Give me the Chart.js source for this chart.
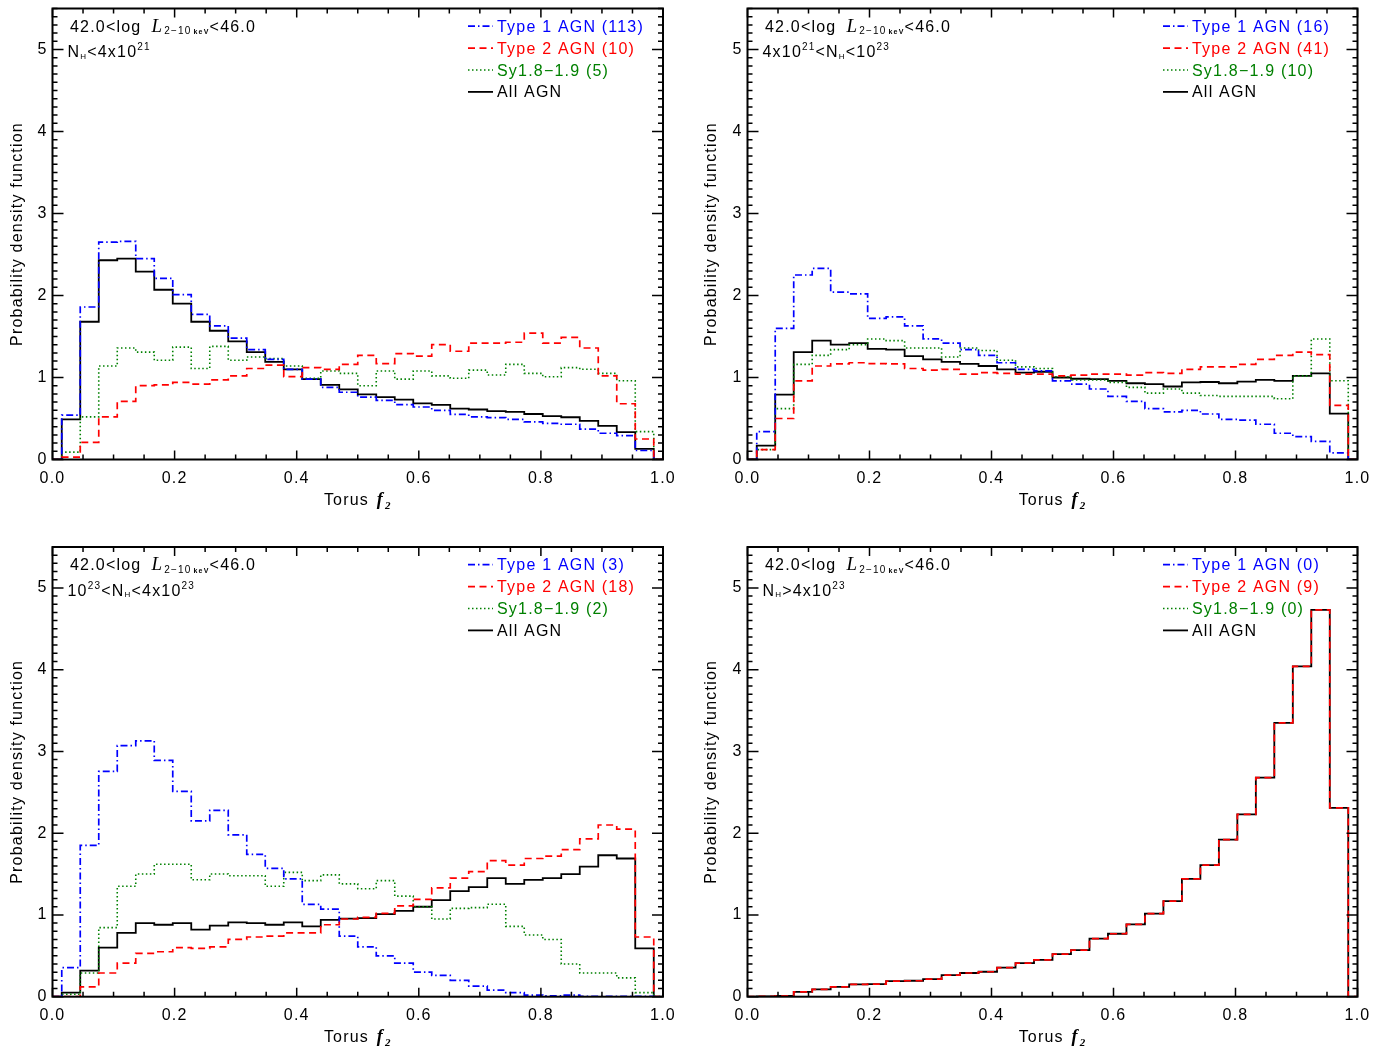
<!DOCTYPE html>
<html lang="en">
<head>
<meta charset="utf-8">
<title>Torus f2 probability density functions</title>
<script src="https://cdn.jsdelivr.net/npm/chart.js@4.4.1/dist/chart.umd.min.js"></script>
<style>
  html, body { margin: 0; padding: 0; background: #ffffff; }
  #page { position: relative; width: 1387px; height: 1051px; overflow: hidden; background: #ffffff; }
  #page canvas { position: absolute; }
</style>
</head>
<body>
<div id="page">
  <canvas id="panel1" width="694" height="525" style="left:0px;top:0px"></canvas>
  <canvas id="panel2" width="693" height="525" style="left:694px;top:0px"></canvas>
  <canvas id="panel3" width="694" height="526" style="left:0px;top:525px"></canvas>
  <canvas id="panel4" width="693" height="526" style="left:694px;top:525px"></canvas>
</div>
<script>
// histogram bins are 1/33 wide, centred on k/33 (k = 0..33)
const binCenters = Array.from({ length: 34 }, (_, k) => k / 33);
const xTickLabels = ['0.0', '0.2', '0.4', '0.6', '0.8', '1.0'];
const yTickLabels = ['0', '1', '2', '3', '4', '5'];

// panel 1: N_H < 4x10^21
const p1Type1 = [0, 0.54, 1.86, 2.65, 2.66, 2.45, 2.21, 2.01, 1.77, 1.63, 1.48, 1.34, 1.22, 1.10, 0.98, 0.88, 0.82,
  0.76, 0.72, 0.67, 0.64, 0.60, 0.55, 0.52, 0.51, 0.49, 0.46, 0.44, 0.43, 0.37, 0.32, 0.29, 0.11, 0];
const p1Type2 = [0, 0.03, 0.21, 0.52, 0.71, 0.90, 0.91, 0.94, 0.92, 0.97, 1.02, 1.11, 1.15, 1.01, 1.12, 1.10, 1.16,
  1.27, 1.17, 1.29, 1.26, 1.40, 1.32, 1.42, 1.42, 1.43, 1.54, 1.42, 1.49, 1.36, 1.02, 0.68, 0.25, 0];
const p1Sy = [0, 0.09, 0.52, 1.14, 1.36, 1.31, 1.21, 1.37, 1.11, 1.38, 1.21, 1.25, 1.23, 1.14, 0.99, 1.08, 1.05,
  0.90, 1.08, 0.98, 1.08, 1.02, 0.99, 1.09, 1.03, 1.16, 1.05, 1.01, 1.12, 1.10, 1.05, 0.96, 0.34, 0];
const p1All = [0, 0.49, 1.68, 2.43, 2.45, 2.29, 2.07, 1.90, 1.68, 1.57, 1.44, 1.31, 1.19, 1.10, 0.98, 0.91, 0.855,
  0.795, 0.76, 0.73, 0.685, 0.665, 0.62, 0.61, 0.59, 0.58, 0.555, 0.53, 0.515, 0.47, 0.41, 0.335, 0.13, 0];
const p1Counts = [113, 10, 5];

// panel 2: 4x10^21 < N_H < 10^23
const p2Type1 = [0, 0.34, 1.60, 2.25, 2.33, 2.04, 2.02, 1.72, 1.74, 1.63, 1.47, 1.42, 1.34, 1.27, 1.18, 1.10, 1.08,
  0.96, 0.92, 0.86, 0.77, 0.71, 0.62, 0.58, 0.60, 0.555, 0.49, 0.48, 0.43, 0.32, 0.28, 0.22, 0.08, 0];
const p2Type2 = [0, 0.12, 0.50, 0.96, 1.14, 1.165, 1.18, 1.17, 1.165, 1.11, 1.09, 1.10, 1.04, 1.06, 1.05, 1.04, 1.04,
  1.02, 1.03, 1.04, 1.04, 1.03, 1.06, 1.05, 1.10, 1.13, 1.13, 1.16, 1.22, 1.27, 1.31, 1.28, 0.66, 0];
const p2Sy = [0, 0.12, 0.62, 1.16, 1.27, 1.34, 1.40, 1.47, 1.45, 1.36, 1.36, 1.25, 1.36, 1.33, 1.21, 1.13, 1.11,
  1.01, 0.97, 0.97, 0.94, 0.88, 0.81, 0.86, 0.81, 0.78, 0.77, 0.77, 0.77, 0.74, 1.02, 1.47, 0.96, 0];
const p2All = [0, 0.17, 0.79, 1.31, 1.45, 1.40, 1.42, 1.35, 1.34, 1.26, 1.22, 1.19, 1.165, 1.14, 1.10, 1.06, 1.07,
  1.00, 0.985, 0.98, 0.96, 0.93, 0.92, 0.89, 0.94, 0.945, 0.93, 0.95, 0.97, 0.96, 1.02, 1.05, 0.56, 0];
const p2Counts = [16, 41, 10];

// panel 3: 10^23 < N_H < 4x10^23
const p3Type1 = [0, 0.355, 1.85, 2.755, 3.07, 3.13, 2.89, 2.51, 2.15, 2.28, 1.98, 1.74, 1.57, 1.44, 1.13, 1.07, 0.74,
  0.61, 0.50, 0.41, 0.30, 0.26, 0.20, 0.13, 0.08, 0.05, 0.02, 0.01, 0.02, 0.005, 0.005, 0.005, 0.005, 0];
const p3Type2 = [0, 0, 0.12, 0.29, 0.41, 0.53, 0.55, 0.60, 0.59, 0.61, 0.70, 0.73, 0.74, 0.78, 0.78, 0.88, 0.95,
  0.97, 1.02, 1.11, 1.19, 1.33, 1.45, 1.53, 1.665, 1.61, 1.69, 1.72, 1.80, 1.93, 2.10, 2.05, 0.73, 0];
const p3Sy = [0, 0.03, 0.29, 0.845, 1.35, 1.50, 1.62, 1.62, 1.43, 1.50, 1.48, 1.48, 1.35, 1.52, 1.42, 1.49, 1.38,
  1.32, 1.42, 1.23, 1.10, 0.95, 1.08, 1.09, 1.13, 0.86, 0.755, 0.70, 0.40, 0.29, 0.29, 0.23, 0.05, 0];
const p3All = [0, 0.05, 0.32, 0.60, 0.78, 0.90, 0.88, 0.90, 0.82, 0.87, 0.91, 0.90, 0.88, 0.91, 0.86, 0.94, 0.955,
  0.96, 1.01, 1.05, 1.10, 1.18, 1.29, 1.34, 1.45, 1.38, 1.43, 1.45, 1.50, 1.59, 1.73, 1.69, 0.59, 0];
const p3Counts = [3, 18, 2];

// panel 4: N_H > 4x10^23 (no type 1 or Sy1.8-1.9 sources)
const p4Type1 = [];
const p4Type2 = [0, 0.005, 0.01, 0.06, 0.09, 0.12, 0.15, 0.155, 0.19, 0.195, 0.215, 0.265, 0.29, 0.305, 0.355, 0.41, 0.45,
  0.52, 0.57, 0.71, 0.77, 0.885, 1.015, 1.17, 1.44, 1.61, 1.92, 2.23, 2.68, 3.35, 4.04, 4.73, 2.31, 0];
const p4Sy = [];
const p4All = [0, 0.005, 0.01, 0.06, 0.09, 0.12, 0.15, 0.155, 0.19, 0.195, 0.215, 0.265, 0.29, 0.305, 0.355, 0.41, 0.45,
  0.52, 0.57, 0.71, 0.77, 0.885, 1.015, 1.17, 1.44, 1.61, 1.92, 2.23, 2.68, 3.35, 4.04, 4.73, 2.31, 0];
const p4Counts = [0, 9, 0];

// column density labels: [text, 'n' | 'sub' | 'sup']
const p1NH = [['N', 'n'], ['H', 'sub'], ['<4x10', 'n'], ['21', 'sup']];
const p2NH = [['4x10', 'n'], ['21', 'sup'], ['<N', 'n'], ['H', 'sub'], ['<10', 'n'], ['23', 'sup']];
const p3NH = [['10', 'n'], ['23', 'sup'], ['<N', 'n'], ['H', 'sub'], ['<4x10', 'n'], ['23', 'sup']];
const p4NH = [['N', 'n'], ['H', 'sub'], ['>4x10', 'n'], ['23', 'sup']];

const SANS = '"Liberation Sans", Arial, Helvetica, sans-serif';
const SERIF = '"Liberation Serif", "DejaVu Serif", serif';
const FONT = `16px ${SANS}`;
const SPACING = '1.2px';

Chart.defaults.color = '#000000';
Chart.defaults.font.family = SANS;
Chart.defaults.font.size = 16;

const seriesStyle = {
  type1: { color: '#0000ff', dash: [7, 3, 1.5, 3], width: 1.7 },
  type2: { color: '#ff0000', dash: [7, 4.5], width: 1.7 },
  sy:    { color: '#008000', dash: [1.5, 2.5], width: 1.6 },
  all:   { color: '#000000', dash: [], width: 1.8 }
};
const legendNames = { type1: 'Type 1 AGN', type2: 'Type 2 AGN', sy: 'Sy1.8\u22121.9', all: 'All AGN' };
const legendOrder = ['type1', 'type2', 'sy', 'all'];
const drawOrder = ['type2', 'type1', 'sy', 'all'];   // first dataset ends up on top

function drawParts(ctx, x, y, parts) {
  parts.forEach(p => {
    ctx.font = p.font;
    x += p.dx || 0;
    ctx.fillText(p.text, x, y + (p.dy || 0));
    x += ctx.measureText(p.text).width;
  });
  return x;
}

function partsWidth(ctx, parts) {
  let w = 0;
  parts.forEach(p => {
    ctx.font = p.font;
    w += (p.dx || 0) + ctx.measureText(p.text).width;
  });
  return w;
}

// IDL look: inward ticks on all four sides, boxed frame, text labels and legend
const idlPlugin = {
  id: 'idl',
  beforeDraw(chart) {
    chart.ctx.letterSpacing = SPACING;
  },
  afterDraw(chart, args, opts) {
    const { ctx, chartArea: a } = chart;
    const x = chart.scales.x, y = chart.scales.y;
    ctx.save();
    ctx.letterSpacing = SPACING;
    ctx.strokeStyle = '#000000';
    ctx.setLineDash([]);

    ctx.lineWidth = 1.5;
    ctx.beginPath();
    for (let i = 0; i <= 20; i++) {
      const px = x.getPixelForValue(i * 0.05);
      const len = i % 4 === 0 ? 9 : 5;
      ctx.moveTo(px, a.bottom); ctx.lineTo(px, a.bottom - len);
      ctx.moveTo(px, a.top); ctx.lineTo(px, a.top + len);
    }
    for (let i = 0; i <= 55; i++) {
      const py = y.getPixelForValue(i / 10);
      const len = i % 10 === 0 ? 11 : 5;
      ctx.moveTo(a.left, py); ctx.lineTo(a.left + len, py);
      ctx.moveTo(a.right, py); ctx.lineTo(a.right - len, py);
    }
    ctx.stroke();

    ctx.lineWidth = 2;
    ctx.strokeRect(a.left, a.top, a.right - a.left, a.bottom - a.top);

    // luminosity range and column density
    ctx.fillStyle = '#000000';
    ctx.textAlign = 'left';
    ctx.textBaseline = 'alphabetic';
    drawParts(ctx, a.left + 17.5, a.top + 23.2, [
      { text: '42.0<log', font: FONT },
      { text: 'L', font: `italic 19px ${SERIF}`, dx: 10 },
      { text: '2\u221210', font: `10px ${SANS}`, dy: 2.5, dx: 1 },
      { text: 'keV', font: `bold 7px ${SANS}`, dy: 2.5, dx: 2 },
      { text: '<46.0', font: FONT }
    ]);
    drawParts(ctx, a.left + 15, a.top + 48.6, opts.nh.map(([t, kind]) => {
      if (kind === 'sub') return { text: t, font: `8px ${SANS}`, dy: 1.5 };
      if (kind === 'sup') return { text: t, font: `10px ${SANS}`, dy: -7 };
      return { text: t, font: FONT };
    }));

    // legend
    legendOrder.forEach((key, i) => {
      const st = seriesStyle[key];
      const base = a.top + 23.2 + i * 21.9;
      const ly = base - 5.5;
      ctx.save();
      ctx.strokeStyle = st.color;
      ctx.lineWidth = st.width;
      ctx.setLineDash(st.dash);
      ctx.beginPath();
      ctx.moveTo(a.left + 415.5, ly);
      ctx.lineTo(a.left + 440.5, ly);
      ctx.stroke();
      ctx.restore();
      ctx.fillStyle = st.color;
      ctx.font = FONT;
      const label = key === 'all' ? legendNames[key] : `${legendNames[key]} (${opts.counts[i]})`;
      ctx.fillText(label, a.left + 444.5, base);
    });

    // x-axis title: Torus f2
    const title = [
      { text: 'Torus ', font: FONT },
      { text: 'f', font: `bold italic 18px ${SERIF}`, dx: 2 },
      { text: '2', font: `bold italic 11px ${SERIF}`, dy: 4, dx: 1 }
    ];
    ctx.fillStyle = '#000000';
    const w = partsWidth(ctx, title);
    drawParts(ctx, (a.left + a.right) / 2 - w / 2, a.bottom + 45.5, title);
    ctx.restore();
  }
};

function makePanel(id, area, series, counts, nh) {
  const canvas = document.getElementById(id);
  const W = canvas.width, H = canvas.height;
  const datasets = drawOrder.map(key => ({
    label: legendNames[key],
    data: series[key].map((v, k) => ({ x: binCenters[k], y: v })),
    borderColor: seriesStyle[key].color,
    borderWidth: seriesStyle[key].width,
    borderDash: seriesStyle[key].dash,
    borderCapStyle: 'butt',
    borderJoinStyle: 'miter',
    stepped: 'middle',
    fill: false,
    pointRadius: 0,
    tension: 0
  }));

  return new Chart(canvas, {
    type: 'line',
    data: { datasets },
    options: {
      responsive: false,
      animation: false,
      events: [],
      layout: { autoPadding: false, padding: { left: 0, top: area.top, right: W - area.right, bottom: 0 } },
      scales: {
        x: {
          type: 'linear', min: 0, max: 1,
          grid: { display: false, drawTicks: false }, border: { display: false },
          ticks: {
            stepSize: 0.2, autoSkip: false, maxRotation: 0, padding: 9,
            callback: v => xTickLabels[Math.round(v * 5)]
          },
          afterFit: s => {
            s.height = H - area.bottom;
            s.paddingLeft = 0; s.paddingRight = 0;
          }
        },
        y: {
          type: 'linear', min: 0, max: 5.5,
          grid: { display: false, drawTicks: false }, border: { display: false },
          ticks: {
            stepSize: 1, includeBounds: false, padding: 5,
            callback: v => yTickLabels[Math.round(v)]
          },
          title: { display: true, text: 'Probability density function', padding: { top: 8, bottom: 0 } },
          afterFit: s => {
            s.width = area.left;
            s.paddingTop = 0; s.paddingBottom = 0;
          }
        }
      },
      plugins: {
        legend: { display: false },
        tooltip: { enabled: false },
        idl: { counts, nh }
      }
    },
    plugins: [idlPlugin]
  });
}

makePanel('panel1', { left: 52.5, top: 8.5, right: 663, bottom: 459.5 },
  { type1: p1Type1, type2: p1Type2, sy: p1Sy, all: p1All }, p1Counts, p1NH);
makePanel('panel2', { left: 53.5, top: 8.5, right: 663.5, bottom: 459.5 },
  { type1: p2Type1, type2: p2Type2, sy: p2Sy, all: p2All }, p2Counts, p2NH);
makePanel('panel3', { left: 52.5, top: 22, right: 663, bottom: 471.7 },
  { type1: p3Type1, type2: p3Type2, sy: p3Sy, all: p3All }, p3Counts, p3NH);
makePanel('panel4', { left: 53.5, top: 22, right: 663.5, bottom: 471.7 },
  { type1: p4Type1, type2: p4Type2, sy: p4Sy, all: p4All }, p4Counts, p4NH);
</script>
</body>
</html>
